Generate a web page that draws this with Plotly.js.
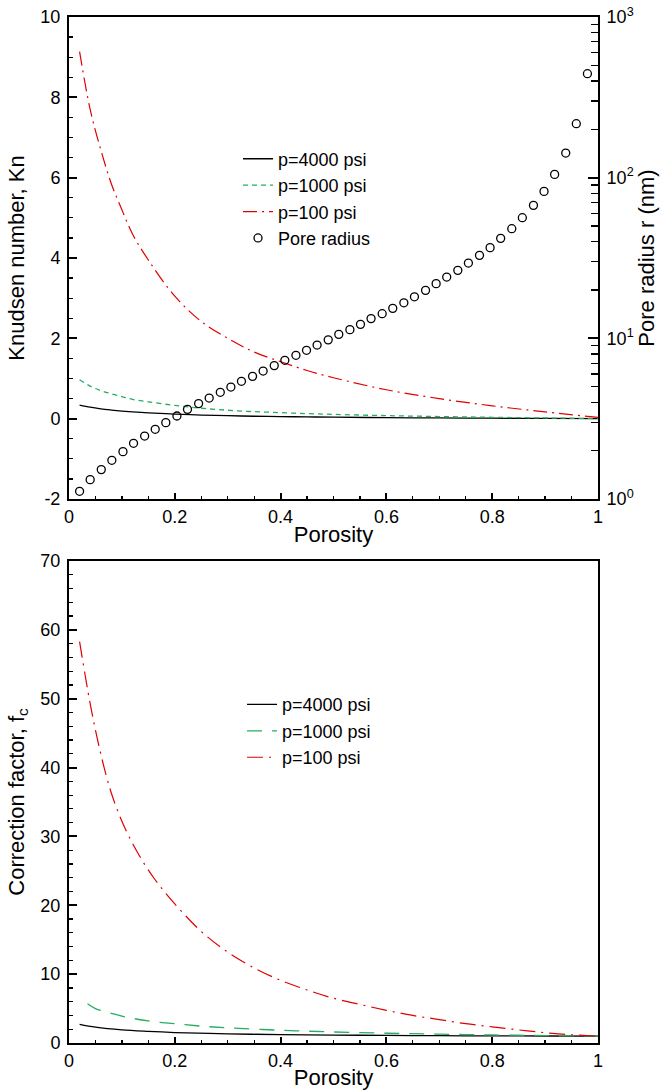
<!DOCTYPE html>
<html>
<head>
<meta charset="utf-8">
<script src="https://cdn.plot.ly/plotly-3.0.1.min.js"></script>
<style>
html,body{margin:0;padding:0;background:#fff;}
#chart{width:661px;height:1090px;}
</style>
</head>
<body>
<div id="chart"></div>
<script>
// ---------- Top panel: Knudsen number vs porosity ----------
const porosityKn = [0.02, 0.04, 0.06, 0.08, 0.10, 0.12, 0.15, 0.20, 0.25, 0.30, 0.35, 0.40, 0.45, 0.50, 0.60, 0.70, 0.80, 0.90, 1.00];
const kn4000 = [0.34, 0.285, 0.245, 0.215, 0.19, 0.17, 0.145, 0.115, 0.09, 0.074, 0.061, 0.052, 0.044, 0.037, 0.026, 0.018, 0.012, 0.006, 0.001];
const kn1000 = [0.97, 0.81, 0.70, 0.62, 0.55, 0.48, 0.42, 0.33, 0.26, 0.21, 0.175, 0.15, 0.126, 0.107, 0.076, 0.053, 0.034, 0.018, 0.003];
const kn100  = [9.14, 7.70, 6.70, 5.85, 5.20, 4.60, 3.95, 3.05, 2.42, 2.00, 1.66, 1.42, 1.20, 1.02, 0.72, 0.50, 0.32, 0.17, 0.03];

// Pore radius (nm), right log axis
const porosityR = [0.020, 0.040, 0.061, 0.081, 0.102, 0.122, 0.143, 0.163, 0.183, 0.204, 0.224, 0.245,
                   0.265, 0.286, 0.306, 0.326, 0.347, 0.367, 0.388, 0.408, 0.429, 0.449, 0.469, 0.490,
                   0.510, 0.531, 0.551, 0.571, 0.592, 0.612, 0.633, 0.653, 0.674, 0.694, 0.714, 0.735,
                   0.755, 0.776, 0.796, 0.816, 0.837, 0.857, 0.878, 0.898, 0.918, 0.939, 0.959, 0.980];
const poreRadius = [1.117, 1.320, 1.524, 1.741, 1.972, 2.222, 2.466, 2.715, 2.988, 3.285, 3.615, 3.924,
                    4.251, 4.613, 4.977, 5.401, 5.801, 6.258, 6.764, 7.298, 7.841, 8.422, 9.085, 9.788,
                    10.59, 11.33, 12.22, 13.27, 14.24, 15.37, 16.64, 18.13, 19.89, 21.90, 24.07, 26.50,
                    29.42, 32.85, 36.68, 41.92, 48.15, 56.37, 67.24, 82.16, 104.8, 142.3, 216.8, 443.8];

// ---------- Bottom panel: correction factor vs porosity ----------
const porosityFc100 = [0.02, 0.04, 0.06, 0.08, 0.10, 0.12, 0.14, 0.16, 0.18, 0.20, 0.25, 0.30, 0.35, 0.40, 0.45, 0.50, 0.55, 0.60, 0.65, 0.70, 0.75, 0.80, 0.85, 0.90, 0.95, 1.00];
const fc100 = [58.3, 49.3, 42.0, 36.3, 32.2, 29.0, 26.3, 24.0, 22.0, 20.2, 16.2, 13.2, 10.9, 9.1, 7.7, 6.5, 5.6, 4.75, 4.0, 3.4, 2.8, 2.35, 1.9, 1.5, 1.2, 1.0];
const porosityFc1000 = [0.035, 0.05, 0.075, 0.10, 0.15, 0.20, 0.25, 0.30, 0.40, 0.50, 0.60, 0.70, 0.80, 0.90, 1.00];
const fc1000 = [5.7, 5.0, 4.4, 3.9, 3.2, 2.8, 2.45, 2.2, 1.85, 1.6, 1.42, 1.28, 1.17, 1.08, 1.0];
const porosityFc4000 = [0.02, 0.05, 0.10, 0.15, 0.20, 0.30, 0.40, 0.50, 0.60, 0.70, 0.80, 0.90, 1.00];
const fc4000 = [2.7, 2.3, 1.9, 1.68, 1.52, 1.33, 1.22, 1.15, 1.10, 1.06, 1.04, 1.02, 1.0];

const seriesNames = ['p=4000 psi', 'p=1000 psi', 'p=100 psi', 'Pore radius'];
const xTickVals = [0, 0.2, 0.4, 0.6, 0.8, 1];
const xTickText = ['0', '0.2', '0.4', '0.6', '0.8', '1'];
const knTickVals = [-2, 0, 2, 4, 6, 8, 10];
const knTickText = ['-2', '0', '2', '4', '6', '8', '10'];
const rTickVals = [1, 10, 100, 1000];
const rTickText = ['10<sup>0</sup>', '10<sup>1</sup>', '10<sup>2</sup>', '10<sup>3</sup>'];
const rMinorVals = [2,3,4,5,6,7,8,9,20,30,40,50,60,70,80,90,200,300,400,500,600,700,800,900];
const fcTickVals = [0, 10, 20, 30, 40, 50, 60, 70];

const FONT = '"Liberation Sans", Arial, Helvetica, sans-serif';
const BLACK = '#000000';
const GREEN = '#26ad62';
const RED = '#e00000';

const traces = [
  {x: porosityKn, y: kn4000, name: seriesNames[0], type: 'scatter', mode: 'lines', xaxis: 'x', yaxis: 'y',
   line: {color: BLACK, width: 1.3, shape: 'spline'}, legend: 'legend'},
  {x: porosityKn, y: kn1000, name: seriesNames[1], type: 'scatter', mode: 'lines', xaxis: 'x', yaxis: 'y',
   line: {color: GREEN, width: 1.3, dash: '5px,4px', shape: 'spline'}, legend: 'legend'},
  {x: porosityKn, y: kn100, name: seriesNames[2], type: 'scatter', mode: 'lines', xaxis: 'x', yaxis: 'y',
   line: {color: RED, width: 1.2, dash: '14px,5px,2px,5px', shape: 'spline'}, legend: 'legend'},
  {x: porosityR, y: poreRadius, name: seriesNames[3], type: 'scatter', mode: 'markers', xaxis: 'x', yaxis: 'y2',
   marker: {symbol: 'circle-open', size: 8, color: BLACK, line: {color: BLACK, width: 1.3}}, legend: 'legend'},

  {x: porosityFc4000, y: fc4000, name: seriesNames[0], type: 'scatter', mode: 'lines', xaxis: 'x2', yaxis: 'y3',
   line: {color: BLACK, width: 1.3, shape: 'spline'}, legend: 'legend2'},
  {x: porosityFc1000, y: fc1000, name: seriesNames[1], type: 'scatter', mode: 'lines', xaxis: 'x2', yaxis: 'y3',
   line: {color: GREEN, width: 1.3, dash: '15px,10px', shape: 'spline'}, legend: 'legend2'},
  {x: porosityFc100, y: fc100, name: seriesNames[2], type: 'scatter', mode: 'lines', xaxis: 'x2', yaxis: 'y3',
   line: {color: RED, width: 1.2, dash: '16px,6px,2px,6px', shape: 'spline'}, legend: 'legend2'}
];

const tickFont = {family: FONT, size: 18, color: BLACK};
const titleFont = {family: FONT, size: 22, color: BLACK};
const base = {showline: true, linecolor: BLACK, linewidth: 2, mirror: true, ticks: 'inside', tickcolor: BLACK,
              tickwidth: 2, showgrid: false, zeroline: false, tickfont: tickFont, automargin: false,
              ticklabelstandoff: 3};

const layout = {
  width: 661, height: 1090,
  margin: {l: 69, r: 63, t: 17, b: 47},
  paper_bgcolor: 'white', plot_bgcolor: 'white',
  font: {family: FONT, color: BLACK},
  showlegend: true,
  xaxis: Object.assign({}, base, {
    domain: [0, 1], anchor: 'y', range: [0, 1], tickmode: 'array', tickvals: xTickVals, ticktext: xTickText,
    ticklen: 6, ticklabelstandoff: 0,
    minor: {ticks: 'inside', dtick: 0.05, tick0: 0, ticklen: 3, tickwidth: 1.2, tickcolor: BLACK},
    title: {text: 'Porosity', font: titleFont, standoff: 1}
  }),
  yaxis: Object.assign({}, base, {
    domain: [0.5302, 1], anchor: 'x', range: [-2, 10], tickmode: 'array', tickvals: knTickVals, ticktext: knTickText,
    ticklen: 8,
    minor: {ticks: 'inside', dtick: 0.5, tick0: 0, ticklen: 4, tickwidth: 1.2, tickcolor: BLACK},
    title: {text: 'Knudsen number, Kn', font: titleFont, standoff: 10}
  }),
  yaxis2: {
    overlaying: 'y', side: 'right', anchor: 'x', type: 'log', range: [0, 3],
    showline: true, linecolor: BLACK, linewidth: 2, showgrid: false, zeroline: false, automargin: false,
    ticks: 'inside', tickcolor: BLACK, tickwidth: 2, ticklen: 10,
    tickmode: 'array', tickvals: rTickVals, ticktext: rTickText, tickfont: tickFont, ticklabelstandoff: 3,
    minor: {ticks: 'inside', tickmode: 'array', tickvals: rMinorVals, ticklen: 7, tickwidth: 1.2, tickcolor: BLACK},
    title: {text: 'Pore radius r (nm)', font: titleFont, standoff: 4}
  },
  xaxis2: Object.assign({}, base, {
    domain: [0, 1], anchor: 'y3', range: [0, 1], tickmode: 'array', tickvals: xTickVals, ticktext: xTickText,
    ticklen: 6, ticklabelstandoff: 0,
    minor: {ticks: 'inside', dtick: 0.05, tick0: 0, ticklen: 3, tickwidth: 1.2, tickcolor: BLACK},
    title: {text: 'Porosity', font: titleFont, standoff: 3}
  }),
  yaxis3: Object.assign({}, base, {
    domain: [0, 0.4698], anchor: 'x2', range: [0, 70], tickmode: 'array', tickvals: fcTickVals,
    ticklen: 8,
    minor: {ticks: 'inside', dtick: 2, tick0: 0, ticklen: 4, tickwidth: 1.2, tickcolor: BLACK},
    title: {text: 'Correction factor, f<sub>c</sub>', font: titleFont, standoff: 10}
  }),
  legend: {
    x: 0.3195, y: 0.8796, xanchor: 'left', yanchor: 'top', bgcolor: 'rgba(0,0,0,0)', borderwidth: 0,
    font: {family: FONT, size: 18, color: BLACK}, traceorder: 'normal'
  },
  legend2: {
    x: 0.3271, y: 0.3477, xanchor: 'left', yanchor: 'top', bgcolor: 'rgba(0,0,0,0)', borderwidth: 0,
    font: {family: FONT, size: 18, color: BLACK}, traceorder: 'normal'
  }
};

Plotly.newPlot('chart', traces, layout, {staticPlot: true, displayModeBar: false});
</script>
</body>
</html>
